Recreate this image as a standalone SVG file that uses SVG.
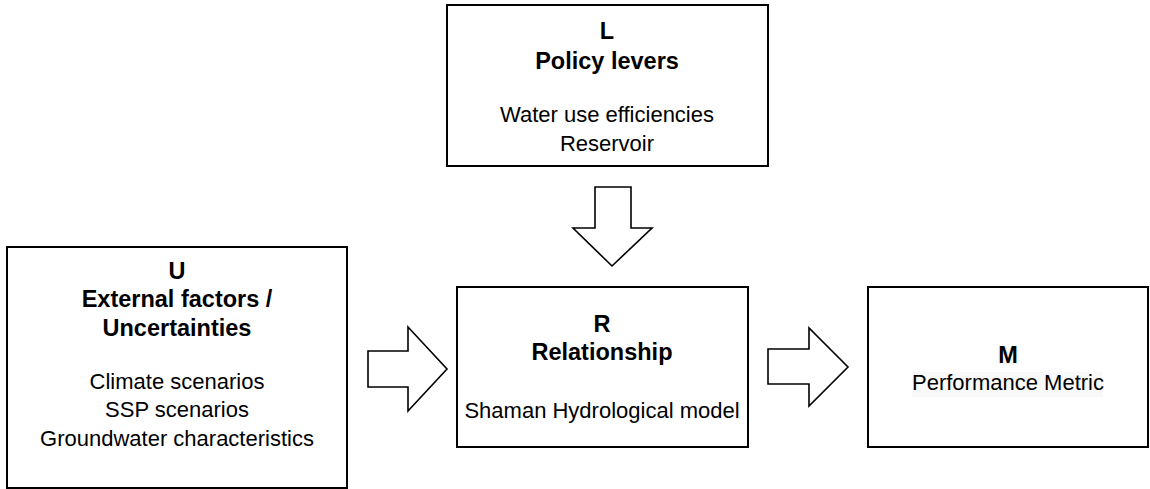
<svg xmlns="http://www.w3.org/2000/svg" width="1150" height="489" viewBox="0 0 1150 489">
<style>
.box{fill:#fff;stroke:#000;stroke-width:2}
.arr{fill:#fff;stroke:#000;stroke-width:1.6;stroke-linejoin:miter}
text{font-family:"Liberation Sans",Arial,Helvetica,sans-serif;fill:#000;text-anchor:middle}
.b{font-weight:bold;font-size:23.5px}
.r{font-size:22px}
</style>
<rect width="1150" height="489" fill="#fff"/>
<g id="node-L">
<rect class="box" x="447" y="5" width="321" height="161"/>
<text class="b" x="607" y="39">L</text>
<text class="b" x="607" y="69">Policy levers</text>
<text class="r" x="607" y="122">Water use efficiencies</text>
<text class="r" x="607" y="151">Reservoir</text>
</g>
<g id="node-U">
<rect class="box" x="7" y="247" width="340" height="241"/>
<text class="b" x="177" y="279">U</text>
<text class="b" x="177" y="307">External factors /</text>
<text class="b" x="177" y="336">Uncertainties</text>
<text class="r" x="177" y="389">Climate scenarios</text>
<text class="r" x="177" y="417">SSP scenarios</text>
<text class="r" x="177" y="446">Groundwater characteristics</text>
</g>
<g id="node-R">
<rect class="box" x="457" y="287" width="291" height="160"/>
<text class="b" x="602" y="332">R</text>
<text class="b" x="602" y="360">Relationship</text>
<text class="r" x="602" y="418">Shaman Hydrological model</text>
</g>
<g id="node-M">
<rect class="box" x="868" y="287" width="280" height="160"/>
<rect x="998" y="347" width="20" height="18" fill="#f9f9f9"/>
<rect x="912" y="372" width="191" height="25" fill="#f9f9f9"/>
<text class="b" x="1008" y="363">M</text>
<text class="r" x="1008" y="390">Performance Metric</text>
</g>
<g id="connectors">
<polygon class="arr" points="595,187 631,187 631,228 652,228 612,266 573,228 595,228"/>
<polygon class="arr" points="368,351 408,351 408,327 447,369 408,411 408,387 368,387"/>
<polygon class="arr" points="768,349 809,349 809,328 848,367 809,406 809,384 768,384"/>
</g>
</svg>
